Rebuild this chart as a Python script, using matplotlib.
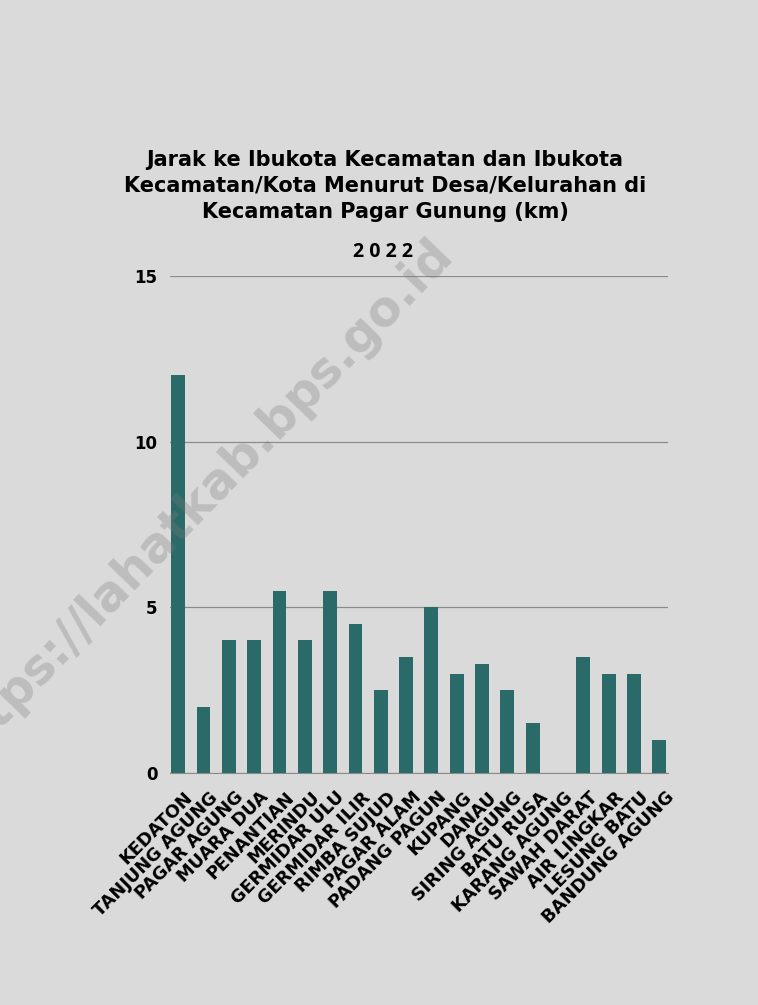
"""Jarak ke ibukota kecamatan per desa — Kecamatan Pagar Gunung, 2022"""

import matplotlib.pyplot as plt
from matplotlib.transforms import ScaledTranslation

desa = [
    "KEDATON", "TANJUNG AGUNG", "PAGAR AGUNG", "MUARA DUA", "PENANTIAN",
    "MERINDU", "GERMIDAR ULU", "GERMIDAR ILIR", "RIMBA SUJUD", "PAGAR ALAM",
    "PADANG PAGUN", "KUPANG", "DANAU", "SIRING AGUNG", "BATU RUSA",
    "KARANG AGUNG", "SAWAH DARAT", "AIR LINGKAR", "LESUNG BATU", "BANDUNG AGUNG",
]
jarak_km = [12, 2, 4, 4, 5.5, 4, 5.5, 4.5, 2.5, 3.5,
            5, 3, 3.3, 2.5, 1.5, 0, 3.5, 3, 3, 1]
y_ticks = [0, 5, 10, 15]

_BG = "#dadada"
_BAR = "#2a6b69"
_GRID = "#8c8c8c"

fig = plt.figure(figsize=(7.58, 10.05), dpi=100)
fig.patch.set_facecolor(_BG)
ax = fig.add_axes([0.224, 0.2308, 0.657, 0.4946])
ax.set_facecolor("none")

x = list(range(len(desa)))
ax.bar(x, jarak_km, width=0.55, color=_BAR, zorder=3)

ax.set_xlim(-0.33, len(desa) - 1 + 0.33)
ax.set_ylim(0, 15)
ax.set_yticks(y_ticks)
ax.set_yticklabels([str(v) for v in y_ticks], fontsize=12, fontweight="bold")
ax.yaxis.grid(True, color=_GRID, linewidth=0.9, zorder=0)
ax.tick_params(axis="y", length=0, pad=9)
ax.tick_params(axis="x", length=0, pad=11)
for name, sp in ax.spines.items():
    sp.set_visible(name == "bottom")
ax.spines["bottom"].set_color(_GRID)

ax.set_xticks(x)
ax.set_xticklabels(desa, rotation=45, ha="right", rotation_mode="anchor",
                   fontsize=12.7, fontweight="bold")
# nudge labels a little to the right, like the original
shift = ScaledTranslation(4 / 72, 0, fig.dpi_scale_trans)
for lbl in ax.get_xticklabels():
    lbl.set_transform(lbl.get_transform() + shift)

fig.text(0.508, 0.815,
         "Jarak ke Ibukota Kecamatan dan Ibukota\n"
         "Kecamatan/Kota Menurut Desa/Kelurahan di\n"
         "Kecamatan Pagar Gunung (km)",
         ha="center", va="center", fontsize=15, fontweight="bold",
         linespacing=1.4, color="black")
fig.text(0.505, 0.749, "2 0 2 2", ha="center", va="center", fontsize=14,
         fontweight="bold", family="Open Sans")

# watermark
fig.text(0.26, 0.5, "https://lahatkab.bps.go.id", ha="center", va="center",
         rotation=46, fontsize=35, fontweight="bold", color="#7a7a7a",
         alpha=0.3, zorder=0)

fig.savefig("out.png", dpi=100, facecolor=fig.get_facecolor())
